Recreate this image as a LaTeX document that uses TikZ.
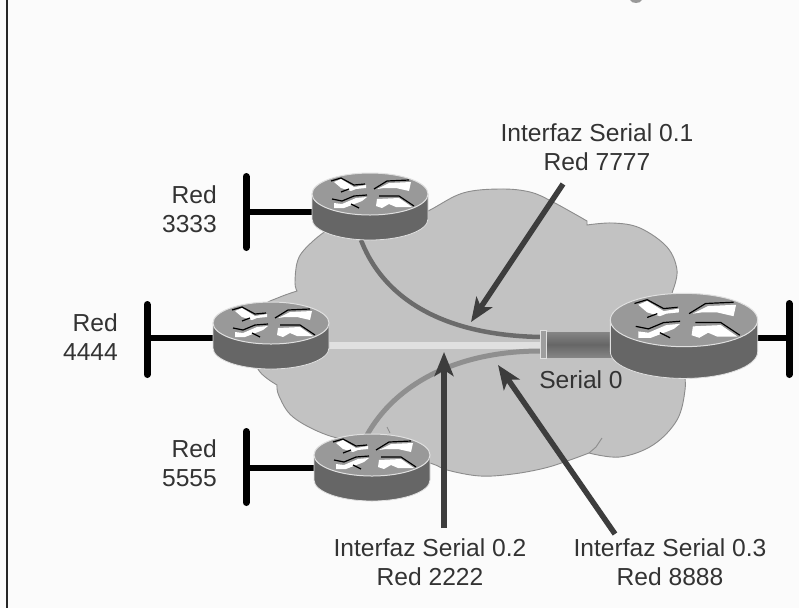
\documentclass[tikz,border=0pt]{standalone}
\usepackage{fontspec}
\setmainfont{Liberation Sans}
\usetikzlibrary{arrows.meta}
\definecolor{bgc}{gray}{0.985}
\definecolor{cloudc}{gray}{0.76}
\definecolor{cloude}{gray}{0.55}
\definecolor{rtop}{gray}{0.60}
\definecolor{rside}{gray}{0.40}
\definecolor{rim}{gray}{0.88}
\definecolor{arr}{gray}{0.24}
\definecolor{txt}{gray}{0.2}
\definecolor{pvcdark}{gray}{0.42}
\definecolor{pvcmid}{gray}{0.56}
\definecolor{tubeedge}{gray}{0.52}
\definecolor{tubemid}{gray}{0.40}
\definecolor{flange}{gray}{0.62}
\tikzset{
 x=1pt,y=-1pt,
 lbl/.style={font=\fontsize{24.6}{29.5}\selectfont,text=txt,align=center,inner sep=0pt},
 lblr/.style={lbl,align=right,anchor=east},
 net/.style={line width=7pt,black,line cap=round},
 stub/.style={line width=6.5pt,black},
 callout/.style={line width=5.5pt,arr,-{Stealth[length=24pt,width=19pt,inset=6pt]}},
 glyph/.style={black,line width=1.2pt},
}
\newcommand{\router}[4]{% name, cx, cy, scale
 \begin{scope}[shift={(#2,#3)},scale=#4]
  \fill[rside,draw=rim,line width=0.8pt] (-58,0) -- (-58,25) arc[start angle=180,end angle=360,x radius=58,y radius=-21] -- (58,0) -- cycle;
  \fill[rtop,draw=rim,line width=1pt] (0,0) ellipse[x radius=58,y radius=21];
  \fill[white] (-36,-12) -- (-29,-15) -- (-16,-7) -- (-4,-9) -- (-4,-6) -- (-14,-5) -- (-19,-3) -- (-29,-6) -- cycle;
  \fill[white] (-36,9) -- (-28,10) -- (-14,4) -- (-3,3) -- (-8,7) -- (-13,9) -- (-26,14) -- (-36,14) -- cycle;
  \fill[white] (7,-5) -- (19,-11) -- (41,-12) -- (39,-3) -- (26,-6) -- (14,-6) -- cycle;
  \fill[white] (6,12) -- (7,5) -- (29,4) -- (42,13) -- (26,13) -- (19,10) -- (12,14) -- cycle;
  \draw[glyph] (-39,-13) -- (-29,-16) -- (-16,-9) -- (-5,-10);
  \draw[glyph] (-29,-2) -- (-21,-5);
  \draw[glyph] (-38,5) -- (-28,7) -- (-16,2) -- (-3,1);
  \draw[glyph] (-19,10) -- (-11,14);
  \draw[glyph] (4,-5) -- (17,-13) -- (39,-14);
  \draw[glyph] (9,2) -- (29,2) -- (44,12);
 \end{scope}
 \coordinate (#1) at (#2,#3);
}
\begin{document}
\begin{tikzpicture}
\path[use as bounding box,fill=bgc] (0,0) rectangle (799,608);
% frame and clipped title mark
\draw[black!85,line width=2pt] (7,0) -- (7,608);
\fill[gray!80] (630,0) .. controls (632,4) and (640,4) .. (642,0) -- cycle;
% cloud
\filldraw[fill=cloudc,draw=cloude,line width=0.9pt]
 plot[smooth,tension=0.6] coordinates {(340,225) (323,233) (304,250) (297,263) (295,283) (297,291)}
 -- plot[smooth,tension=0.6] coordinates {(297,291) (280,297) (262,306) (250,325) (250,350) (260,372) (277,385)}
 -- plot[smooth,tension=0.6] coordinates {(277,385) (279,396) (293,417) (327,435) (370,445) (430,463) (447,470) (480,476) (513,474) (545,468) (570,460) (589,453)}
 -- plot[smooth,tension=0.6] coordinates {(589,453) (620,457) (653,445) (677,420) (685,390) (684,370)}
 -- (670,300)
 -- plot[smooth,tension=0.6] coordinates {(673,290) (677,270) (667,247) (640,228) (613,223) (587,225)}
 -- plot[smooth,tension=0.6] coordinates {(587,221) (553,202) (530,192) (500,189) (463,193) (430,210) (400,225)}
 -- cycle;
\draw[cloude,line width=0.9pt] (589,453) -- (596,447) -- (602,438);
\draw[cloude,line width=0.7pt] (387,427) -- (390,433);
% anchors
\coordinate (hubA) at (541,337);
\coordinate (hubB) at (541,345);
\coordinate (hubC) at (541,351);
\coordinate (portA) at (361,240);
\coordinate (portB) at (328,345);
\coordinate (portC) at (367,435);
% PVCs
\draw[line width=4.5pt,pvcdark] (portA) .. controls (378,285) and (425,335) .. (hubA);
\draw[line width=7pt,rim] (portB) -- (hubB);
\draw[line width=5pt,pvcmid] (portC) .. controls (395,385) and (455,351) .. (hubC);
% Serial 0 tube
\shade[top color=tubeedge,bottom color=tubeedge,middle color=tubemid] (546,332) rectangle (620,357);
\fill[flange,draw=rim,line width=0.9pt] (540,330) rectangle (546,358);
\draw[rim,line width=1pt] (616,332) -- (616,358);
% LANs
\draw[net] (246,176.5) -- (246,247.5);
\draw[net] (147,304.5) -- (147,374.5);
\draw[net] (246,431.5) -- (246,502.5);
\draw[net] (789,303.5) -- (789,374.5);
\draw[stub] (246,212) -- (314,212);
\draw[stub] (147,338) -- (215,338);
\draw[stub] (246,468) -- (315,468);
\draw[stub] (756,338) -- (789,338);
% routers
\router{rA}{370}{194}{1}
\router{rB}{271}{323}{1}
\router{rC}{372}{455}{1}
\router{rD}{684}{320}{1.27}
% labels
\node[lbl] (l1) at (597,147) {Interfaz Serial 0.1\\Red 7777};
\node[lbl] (l2) at (430,562) {Interfaz Serial 0.2\\Red 2222};
\node[lbl] (l3) at (670,562) {Interfaz Serial 0.3\\Red 8888};
\node[lbl] (s0) at (581,380) {Serial 0};
\node[lblr] (n3) at (217,209) {Red\\3333};
\node[lblr] (n4) at (118,337) {Red\\4444};
\node[lblr] (n5) at (217,463) {Red\\5555};
% callouts
\coordinate (t1) at (563,184);
\coordinate (h1) at (471,322);
\coordinate (t2) at (444,528);
\coordinate (h2) at (444,352);
\coordinate (t3) at (615,534);
\coordinate (h3) at (498,365);
\draw[callout] (t1) -- (h1);
\draw[callout] (t2) -- (h2);
\draw[callout] (t3) -- (h3);
\end{tikzpicture}
\end{document}
